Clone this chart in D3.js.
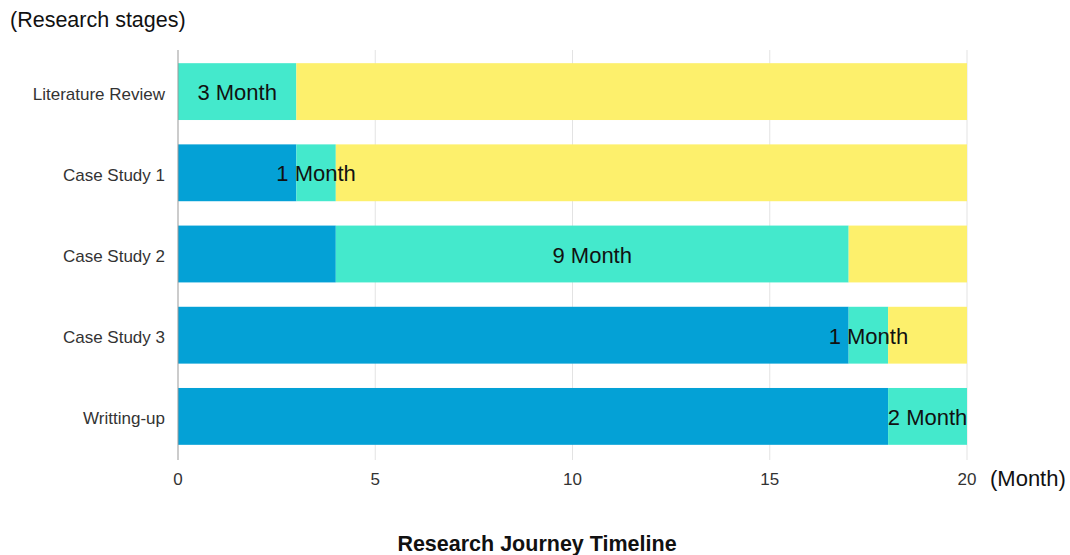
<!DOCTYPE html>
<html>
<head>
    <title>Research Journey Timeline</title>
    <script src="https://d3js.org/d3.v7.min.js"></script>
    <style>
        body { margin: 0; background: #fff; }
        text { font-family: "Liberation Sans", Arial, sans-serif; }
    </style>
</head>
<body>
    <div id="chart"></div>

    <script>
        // Data
        const stages = ["Literature Review", "Case Study 1", "Case Study 2", "Case Study 3", "Writting-up"];
        const doneMonths = [0, 3, 4, 17, 18];      // blue: before stage
        const stageMonths = [3, 1, 13, 1, 2];      // teal: the stage itself
        const restMonths = [17, 16, 3, 2, 0];      // yellow: after
        const stageLabels = ["3 Month", "1 Month", "9 Month", "1 Month", "2 Month"];
        const xTicks = [0, 5, 10, 15, 20];

        const width = 1070, height = 555;
        const margin = { top: 50, right: 103, bottom: 95, left: 178 };

        const svg = d3.select("#chart").append("svg")
            .attr("width", width)
            .attr("height", height);

        const x = d3.scaleLinear().domain([0, 20]).range([margin.left, width - margin.right]);
        const y = d3.scaleBand().domain(stages)
            .range([margin.top + 1, height - margin.bottom - 3])
            .paddingInner(0.3).paddingOuter(0.15);

        // Gridlines
        svg.append("g").selectAll("line").data(xTicks.slice(1)).join("line")
            .attr("x1", d => x(d)).attr("x2", d => x(d))
            .attr("y1", margin.top).attr("y2", height - margin.bottom)
            .attr("stroke", "#e3e3e3").attr("stroke-width", 1);

        // Stacked bars
        const rows = stages.map((s, i) => ({
            stage: s,
            parts: [
                { x0: 0, x1: doneMonths[i], color: "#04a1d6" },
                { x0: doneMonths[i], x1: doneMonths[i] + stageMonths[i], color: "#44e9cc" },
                { x0: doneMonths[i] + stageMonths[i], x1: doneMonths[i] + stageMonths[i] + restMonths[i], color: "#fdf06c" }
            ],
            label: stageLabels[i],
            mid: doneMonths[i] + stageMonths[i] / 2
        }));

        const g = svg.append("g").selectAll("g").data(rows).join("g")
            .attr("transform", d => `translate(0,${y(d.stage)})`);

        g.selectAll("rect").data(d => d.parts.filter(p => p.x1 > p.x0)).join("rect")
            .attr("x", p => x(p.x0))
            .attr("width", p => x(p.x1) - x(p.x0))
            .attr("height", y.bandwidth())
            .attr("fill", p => p.color);

        g.append("text")
            .attr("x", d => x(d.mid))
            .attr("y", y.bandwidth() / 2 + 1)
            .attr("dy", "0.35em")
            .attr("text-anchor", "middle")
            .attr("font-size", 22)
            .attr("fill", "#111")
            .text(d => d.label);

        // Y axis
        svg.append("line")
            .attr("x1", margin.left).attr("x2", margin.left)
            .attr("y1", margin.top).attr("y2", height - margin.bottom)
            .attr("stroke", "#999");

        svg.append("g").selectAll("text").data(stages).join("text")
            .attr("x", margin.left - 13)
            .attr("y", d => y(d) + y.bandwidth() / 2 + 2)
            .attr("dy", "0.35em")
            .attr("text-anchor", "end")
            .attr("font-size", 17)
            .attr("fill", "#333")
            .text(d => d);

        // X axis labels
        svg.append("g").selectAll("text").data(xTicks).join("text")
            .attr("x", d => x(d))
            .attr("y", 485)
            .attr("text-anchor", "middle")
            .attr("font-size", 17)
            .attr("fill", "#333")
            .text(d => d);

        svg.append("text")
            .attr("x", 990).attr("y", 486)
            .attr("font-size", 22).attr("fill", "#111")
            .text("(Month)");

        svg.append("text")
            .attr("x", 10).attr("y", 27)
            .attr("font-size", 21.5).attr("fill", "#111")
            .text("(Research stages)");

        svg.append("text")
            .attr("x", 537).attr("y", 551)
            .attr("text-anchor", "middle")
            .attr("font-size", 21.5).attr("font-weight", "bold").attr("fill", "#111")
            .text("Research Journey Timeline");
    </script>
</body>
</html>
